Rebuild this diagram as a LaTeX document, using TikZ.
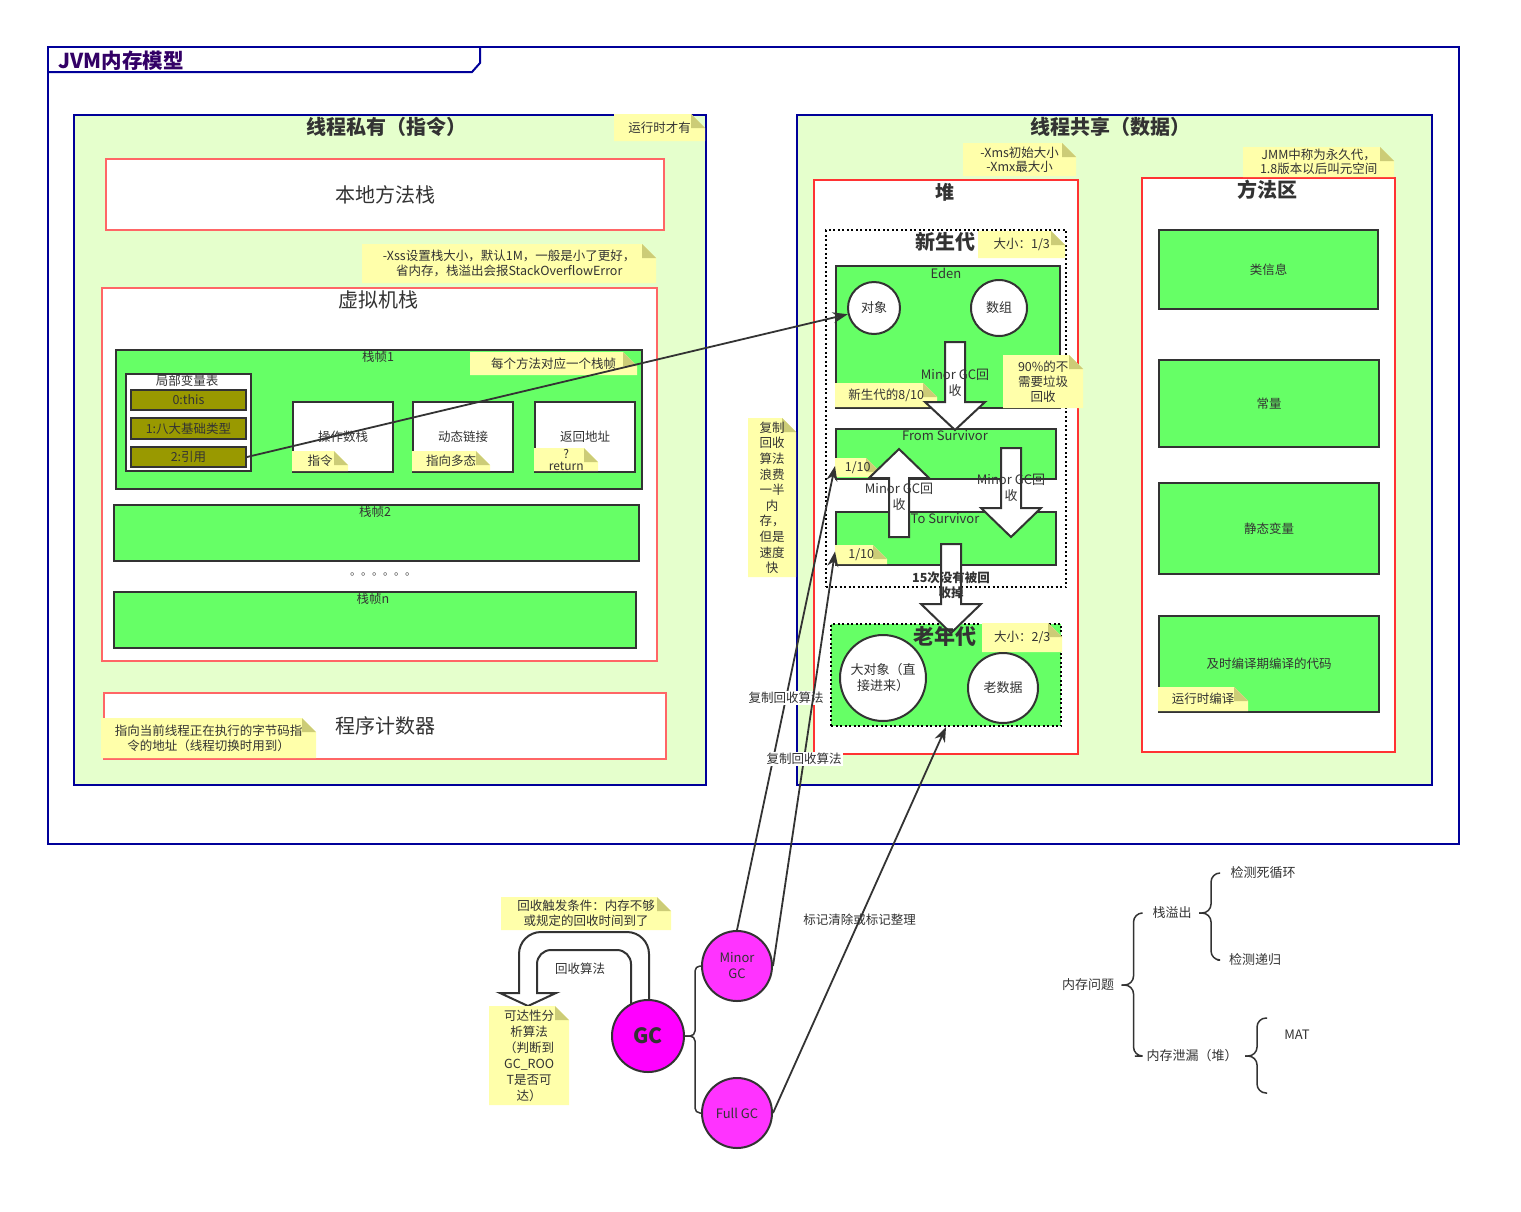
\documentclass[tikz,border=0pt]{standalone}
\usepackage{fontspec}
\setmainfont{Noto Sans CJK SC}
\usetikzlibrary{arrows.meta}

\definecolor{navy}{HTML}{000099}
\definecolor{titlepurple}{HTML}{330066}
\definecolor{panelgreen}{HTML}{E5FFCC}
\definecolor{softred}{HTML}{FF6666}
\definecolor{zonered}{HTML}{FF3333}
\definecolor{cellgreen}{HTML}{66FF66}
\definecolor{slotolive}{HTML}{999900}
\definecolor{darkline}{HTML}{333333}
\definecolor{noteyellow}{HTML}{FFFFAA}
\definecolor{notefold}{HTML}{CCCC77}
\definecolor{gcpink}{HTML}{FF00FF}
\definecolor{gcpink2}{HTML}{FF33FF}

\newcommand{\blockarrow}[4]{% x, shaft start, head base, tip
  \draw[blockline] (#1-10,#2) -- (#1-10,#3) -- (#1-30,#3) -- (#1,#4) -- (#1+30,#3) -- (#1+10,#3) -- (#1+10,#2) -- cycle;}

\tikzset{
  dims/.style 2 args={minimum width=#1pt, minimum height=#2pt, anchor=north west},
  frameline/.style={draw=navy, line width=2pt},
  panel/.style={draw=navy, fill=panelgreen, line width=2pt, inner sep=0pt},
  redbox/.style={draw=softred, fill=white, line width=2pt, inner sep=0pt, font=\fontsize{20}{24}\selectfont},
  zone/.style={draw=zonered, fill=white, line width=2pt, inner sep=0pt},
  young/.style={draw=black, fill=white, line width=2pt, dash pattern=on 2pt off 2.5pt, inner sep=0pt},
  oldbox/.style={young, fill=cellgreen},
  cell/.style={draw=darkline, fill=cellgreen, line width=2pt, inner sep=0pt},
  plain/.style={draw=darkline, fill=white, line width=2pt, inner sep=0pt},
  slot/.style={draw=darkline, fill=slotolive, line width=2pt, inner sep=0pt},
  heading/.style={font=\bfseries\fontsize{19}{23}\selectfont},
  bigtext/.style={font=\fontsize{20}{24}\selectfont},
  small/.style={font=\fontsize{13}{16}\selectfont, align=center, inner sep=1pt},
  memo/.style={align=center, inner sep=1pt,
    path picture={
      \fill[noteyellow] (path picture bounding box.south west) -- (path picture bounding box.north west)
        -- ([xshift=-14pt]path picture bounding box.north east) -- ([yshift=-14pt]path picture bounding box.north east)
        -- (path picture bounding box.south east) -- cycle;
      \fill[notefold] ([xshift=-14pt]path picture bounding box.north east) -- ([yshift=-14pt]path picture bounding box.north east)
        -- ([xshift=-14pt,yshift=-14pt]path picture bounding box.north east) -- cycle;}},
  ball/.style={circle, draw=darkline, fill=white, line width=2pt, inner sep=0pt, align=center, font=\fontsize{13}{16}\selectfont},
  gcball/.style={circle, draw=darkline, fill=gcpink2, line width=2pt, inner sep=0pt, align=center, font=\fontsize{13}{16}\selectfont},
  blockline/.style={draw=darkline, fill=white, line width=2pt, line join=miter},
  link/.style={draw=darkline, line width=1.8pt, -{Stealth[length=15pt,width=11pt]}},
  lineLabel/.style={fill=white, inner sep=1pt},
  tree/.style={draw=darkline, line width=1.5pt, rounded corners=9pt, shorten <=4pt, shorten >=8pt},
}

\begin{document}
\begin{tikzpicture}[x=1pt,y=-1pt,every node/.style={text=darkline, font=\fontsize{12.5}{15}\selectfont}]
\fill[white] (0,0) rectangle (1521,1211);
\useasboundingbox (0,0) rectangle (1521,1211);

% JVM frame
\draw[frameline] (48,47) rectangle (1459,844);
\draw[frameline] (48,72) -- (472,72) -- (480,63) -- (480,47);
\node[anchor=west, font=\bfseries\fontsize{20.5}{24}\selectfont, text=titlepurple] (jvm) at (55,61) {JVM内存模型};

% thread private
\node[panel, dims={632}{670}] (priv) at (73,114) {};
\node[heading, font=\bfseries\fontsize{20}{24}\selectfont] (privT) at (386,127) {线程私有（指令）};
\node[memo, dims={91}{27}] (runNote) at (614,114) {运行时才有};
\node[redbox, dims={558}{71}] (native) at (105,158) {本地方法栈};
\node[memo, dims={294}{39}] (xssNote) at (362,244) {-Xss设置栈大小，默认1M，一般是小了更好，\\省内存，栈溢出会报StackOverflowError};
\node[redbox, dims={555}{373}] (vmstack) at (101,287) {};
\node[bigtext] (vmstackT) at (378,300) {虚拟机栈};

\node[cell, dims={526}{139}] (frame1) at (115,349) {};
\node (frame1T) at (378,357) {栈帧1};
\node[memo, dims={167}{23}] (frameNote) at (470,352) {每个方法对应一个栈帧};
\node[plain, dims={125}{97}] (lvt) at (125,373) {};
\node (lvtT) at (187,381) {局部变量表};
\node[slot, dims={115}{20}] (this) at (130,389) {0:this};
\node[slot, dims={115}{21}] (prim) at (130,417) {1:八大基础类型};
\node[slot, dims={115}{20}] (ref) at (130,446) {2:引用};
\node[plain, dims={100}{70}] (opstack) at (292,401) {操作数栈};
\node[memo, dims={56}{20}] (opNote) at (292,451) {指令};
\node[plain, dims={100}{70}] (dynlink) at (412,401) {动态链接};
\node[memo, dims={78}{20}] (dynNote) at (412,451) {指向多态};
\node[plain, dims={100}{70}] (retaddr) at (534,401) {返回地址};
\node[memo, dims={64}{23}, font=\fontsize{12}{12}\selectfont, inner sep=0pt] (retNote) at (534,448) {?\\return};

\node[cell, dims={525}{56}] (frame2) at (113,504) {};
\node (frame2T) at (375,512) {栈帧2};
\node[font=\fontsize{11}{13}\selectfont] (dots) at (383,574) {。。。。。。};
\node[cell, dims={522}{56}] (framen) at (113,591) {};
\node (framenT) at (373,599) {栈帧n};

\node[redbox, dims={562}{66}] (pc) at (103,692) {程序计数器};
\node[memo, dims={215}{40}] (pcNote) at (101,718) {指向当前线程正在执行的字节码指\\令的地址（线程切换时用到）};

% thread shared
\node[panel, dims={635}{670}] (shared) at (796,114) {};
\node[heading, font=\bfseries\fontsize{20}{24}\selectfont] (sharedT) at (1110,127) {线程共享（数据）};
\node[memo, dims={113}{33}, font=\fontsize{12.5}{14}\selectfont] (xmsNote) at (963,143) {-Xms初始大小\\-Xmx最大小};

\node[zone, dims={264}{574}] (heap) at (813,179) {};
\node[heading] (heapT) at (945,192) {堆};
\node[young, dims={240}{357}] (young) at (825,229) {};
\node[memo, dims={87}{27}] (youngNote) at (978,231) {大小：1/3};

\node[cell, dims={224}{142}] (eden) at (835,265) {};
\node[small] (edenT) at (946,273) {Eden};
\node[ball, minimum size=52pt] (obj) at (874,308) {对象};
\node[ball, minimum size=56pt] (arr) at (999,308) {数组};
\node[memo, dims={102}{24}] (edenNote) at (835,383) {新生代的8/10};
\node[memo, dims={80}{53}] (ratioNote) at (1003,355) {90\%的不\\需要垃圾\\回收};

\node[cell, dims={220}{50}] (from) at (835,428) {};
\node[memo, dims={45}{19}] (fromNote) at (835,458) {1/10};
\node[cell, dims={220}{53}] (to) at (835,511) {};
\node[memo, dims={52}{19}] (toNote) at (835,545) {1/10};

\node[oldbox, dims={230}{102}] (old) at (830,623) {};

% big arrows
\blockarrow{955}{342}{402}{430}
\blockarrow{899}{537}{478}{449}
\blockarrow{1011}{448}{508}{537}
\blockarrow{951}{544}{604}{633}

\node[heading, font=\bfseries\fontsize{20}{24}\selectfont] (youngT) at (945,242) {新生代};
\node[small] (fromT) at (945,436) {From Survivor};
\node[small] (toT) at (945,519) {To Survivor};
\node[small] (edenGC) at (955,383) {Minor GC回\\收};
\node[small] (upGC) at (899,497) {Minor GC回\\收};
\node[small] (downGC) at (1011,488) {Minor GC回\\收};
\node[small, font=\bfseries\fontsize{12.5}{15}\selectfont] (ageT) at (951,585) {15次没有被回\\收掉};

\node[heading, font=\bfseries\fontsize{21}{25}\selectfont] (oldT) at (945,636) {老年代};
\node[memo, dims={80}{29}] (oldNote) at (982,623) {大小：2/3};
\node[ball, minimum size=86pt] (bigobj) at (883,678) {大对象（直\\接进来）};
\node[ball, minimum size=70pt] (olddata) at (1003,688) {老数据};

% method area
\node[zone, dims={253}{574}] (method) at (1141,177) {};
\node[heading, font=\bfseries\fontsize{20}{24}\selectfont] (methodT) at (1267,190) {方法区};
\node[memo, dims={151}{30}, font=\fontsize{12.5}{14}\selectfont] (jmmNote) at (1243,147) {JMM中称为永久代，\\1.8版本以后叫元空间};
\node[cell, dims={219}{79}] (classinfo) at (1158,229) {类信息};
\node[cell, dims={220}{87}] (const) at (1158,359) {常量};
\node[cell, dims={220}{91}] (static) at (1158,482) {静态变量};
\node[cell, dims={220}{96}] (jit) at (1158,615) {及时编译期编译的代码};
\node[memo, dims={90}{24}] (jitNote) at (1158,687) {运行时编译};

\node[memo, dims={48}{159}, font=\fontsize{12.5}{15.6}\selectfont] (copyNote) at (748,418) {复制\\回收\\算法\\浪费\\一半\\内\\存，\\但是\\速度\\快};

% GC
\draw[blockline] (631,1010) [rounded corners=14pt] -- (631,950) -- (537,950) [sharp corners] -- (537,993) -- (556,993) -- (528,1006) -- (500,993) -- (519,993) [rounded corners=22pt] -- (519,932) -- (649,932) [sharp corners] -- (649,1010) -- cycle;
\node[memo, dims={170}{33}, font=\fontsize{12.5}{15}\selectfont] (trigNote) at (501,897) {回收触发条件：内存不够\\或规定的回收时间到了};
\node (algoT) at (580,969) {回收算法};
\node[memo, dims={80}{99}, font=\fontsize{12.5}{16}\selectfont] (reachNote) at (489,1006) {可达性分\\析算法\\（判断到\\GC\_ROO\\T是否可\\达）};
\node[gcball, fill=gcpink, minimum size=72pt, font=\bfseries\fontsize{21}{25}\selectfont] (gc) at (648,1036) {GC};
\node[gcball, minimum size=70pt] (minor) at (737,966) {Minor\\GC};
\node[gcball, minimum size=70pt] (full) at (737,1113) {Full GC};
\draw[draw=darkline, line width=1.5pt, rounded corners=5pt] (gc.east) -- ++(10,0) |- (minor.west);
\draw[draw=darkline, line width=1.5pt, rounded corners=5pt] (gc.east) -- ++(10,0) |- (full.west);

% links
\draw[link] (ref.east) -- (obj);
\draw[link] (minor.north) -- ([yshift=-12pt]from.west) node[lineLabel, pos=0.5] (copyA) {复制回收算法};
\draw[link] (minor.east) -- ([yshift=-13pt]to.west) node[lineLabel, pos=0.5] (copyB) {复制回收算法};
\draw[link] (full.east) -- (old.south) node[pos=0.5] (markT) {标记清除或标记整理};

% memory problems
\node[font=\fontsize{13}{16}\selectfont] (mem) at (1088,985) {内存问题};
\node[font=\fontsize{13}{16}\selectfont] (stk) at (1172,913) {栈溢出};
\node[font=\fontsize{13}{16}\selectfont] (loop) at (1263,873) {检测死循环};
\node[font=\fontsize{13}{16}\selectfont] (rec) at (1255,960) {检测递归};
\node[font=\fontsize{13}{16}\selectfont] (leak) at (1192,1056) {内存泄漏（堆）};
\node[font=\fontsize{13}{16}\selectfont] (mat) at (1297,1035) {MAT};
\coordinate (matArm) at (1275,1018);
\coordinate (leakArm) at (1275,1093);
\draw[tree] (mem.east) -- ++(16,0) |- (stk.west);
\draw[tree] (mem.east) -- ++(16,0) |- (leak.west);
\draw[tree] (stk.east) -- ++(16,0) |- (loop.west);
\draw[tree] (stk.east) -- ++(16,0) |- (rec.west);
\draw[tree] (leak.east) -- ++(16,0) |- (matArm);
\draw[tree] (leak.east) -- ++(16,0) |- (leakArm);
\end{tikzpicture}
\end{document}
